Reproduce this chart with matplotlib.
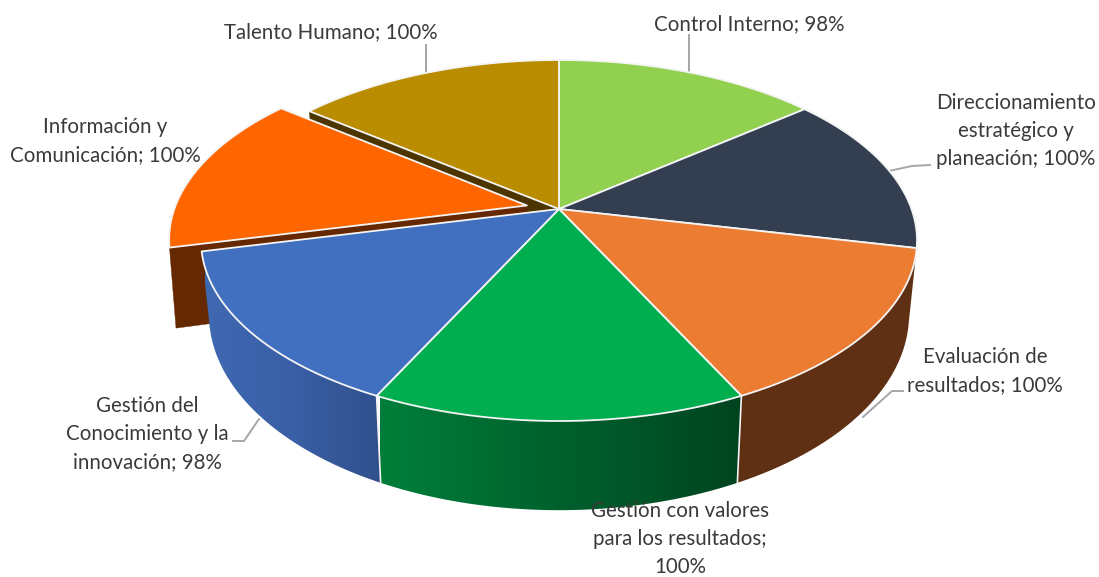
import numpy as np
import matplotlib
matplotlib.use("Agg")
import matplotlib.pyplot as plt
from matplotlib.patches import Polygon
from matplotlib.colors import LinearSegmentedColormap

# data
categories = ["Control Interno", "Direccionamiento\nestratégico y\nplaneación",
              "Evaluación de\nresultados", "Gestión con valores\npara los resultados;\n",
              "Gestión del\nConocimiento y la\ninnovación", "Información y\nComunicación",
              "Talento Humano"]
values = [98, 100, 100, 100, 98, 100, 100]
top_colors = ["#92D050", "#333F50", "#EB7C31", "#00AE50", "#4270C0", "#FF6600", "#BA8C00"]
exploded_index = 5

# layout
CX, K = 559, 0.1745
TOP_W, TOP_H, TOP_Y = 352.5, 175, 209
BOT_W, BOT_H, BOT_Y = 344.7, 190, 280
EXPLODE = 0.0936
label_pos = [(749, 24), (1016, 131), (985, 371), (680, 539), (147, 434), (105, 141), (331, 32)]
leaders = [
    [(689, 35), (689, 72)],
    [(930, 165), (912, 166), (889, 171)],
    [(903, 391), (892, 391), (863, 417)],
    None,
    [(233, 441), (244, 441), (259, 419)],
    None,
    [(426, 45), (426, 73)],
]
LEADER = "#A6A6A6"
WHITE = "#F4F4F4"
TXT = "#3A3A3A"

plt.rcParams["font.family"] = ["Lato", "DejaVu Sans"]
fig = plt.figure(figsize=(10.99, 5.77), dpi=100)
ax = fig.add_axes([0, 0, 1, 1])
ax.axis("off")


def proj(th, r=1.0, level="top", off=(0.0, 0.0)):
    """Perspective projection of a polar point on the pie's top or bottom plane."""
    X = r * np.sin(th) + off[0]
    Y = r * np.cos(th) + off[1]
    d = 1 + K * Y
    if level == "top":
        return np.column_stack([CX + TOP_W * X / d, TOP_Y - TOP_H * Y / d])
    return np.column_stack([CX + BOT_W * X / d, BOT_Y - BOT_H * Y / d])


edges = np.cumsum([0] + values) / sum(values) * 2 * np.pi
mid = (edges[exploded_index] + edges[exploded_index + 1]) / 2
exp_off = (EXPLODE * np.sin(mid), EXPLODE * np.cos(mid))
exp_off_bot = (exp_off[0], exp_off[1] - 0.03)


def top_poly(i, off=(0.0, 0.0), z=5):
    th = np.linspace(edges[i], edges[i + 1], 120)
    rim = proj(th, off=off)
    apex = proj(np.array([0.0]), r=0.0, off=off)
    pts = np.vstack([apex, rim])
    ax.add_patch(Polygon(pts, closed=True, fc=top_colors[i], ec=WHITE, lw=1.3, zorder=z, joinstyle="round"))


def radial_face(th0, fc, off=(0.0, 0.0), off_bot=None, z=1):
    t = np.array([th0])
    off_bot = off if off_bot is None else off_bot
    pts = np.vstack([proj(t, off=off), proj(t, r=0.0, off=off),
                     proj(t, r=0.0, level="bot", off=off_bot), proj(t, level="bot", off=off_bot)])
    ax.add_patch(Polygon(pts, closed=True, fc=fc, ec=fc, lw=0.3, zorder=z))


def side(i, cmap, xr, z=3):
    th = np.linspace(edges[i], edges[i + 1], 160)
    pts = np.vstack([proj(th), proj(th, level="bot")[::-1]])
    clip = Polygon(pts, closed=True, transform=ax.transData, fc="none", ec="none")
    ax.add_patch(clip)
    grad = np.linspace(0, 1, 256).reshape(1, -1)
    im = ax.imshow(grad, cmap=cmap, extent=(xr[0], xr[1], pts[:, 1].max() + 2, pts[:, 1].min() - 2),
                   aspect="auto", zorder=z, interpolation="bilinear")
    im.set_clip_path(clip)


def separator(t, z=3.5):
    arr = np.array([t])
    ax.plot(*np.vstack([proj(arr), proj(arr, level="bot")]).T, color=WHITE, lw=1.2, zorder=z)


# back faces visible through the exploded gap
radial_face(edges[6], "#4D3500", z=1)
radial_face(edges[5], "#662800", off=exp_off, off_bot=exp_off_bot, z=2)

# rim sides
side(2, LinearSegmentedColormap.from_list("o", ["#5F3013", "#5F3013"]), (700, 920))
side(3, LinearSegmentedColormap.from_list("g", ["#007F3A", "#006F33", "#00602D", "#005227", "#00431F"]), (380, 745))
side(4, LinearSegmentedColormap.from_list("b", ["#3F69B2", "#3A5FA6", "#30508C"]), (205, 382))
separator(edges[3])
separator(edges[4])

# top faces
for i in range(len(values)):
    if i == exploded_index:
        top_poly(i, off=exp_off, z=2.5)
    else:
        top_poly(i)

# labels
for i, (cat, v) in enumerate(zip(categories, values)):
    s = f"{cat}{v}%" if cat.endswith("\n") else f"{cat}; {v}%"
    ax.text(*label_pos[i], s, ha="center", va="center", fontsize=14.8, color=TXT,
            linespacing=1.5, zorder=10, multialignment="center")
    if leaders[i]:
        ax.plot(*np.array(leaders[i]).T, color=LEADER, lw=1.4, zorder=4)

ax.set_xlim(0, 1099)
ax.set_ylim(577, 0)
fig.savefig("out.png", dpi=100, facecolor="white")
